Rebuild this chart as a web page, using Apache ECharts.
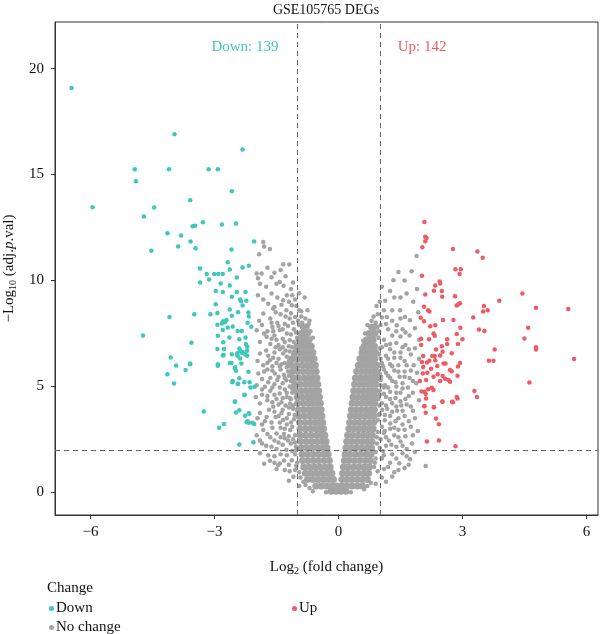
<!DOCTYPE html>
<html>
<head>
<meta charset="utf-8">
<script src="https://cdn.jsdelivr.net/npm/echarts@6/dist/echarts.min.js"></script>
<style>
  html, body { margin: 0; padding: 0; background: #fff; }
  #chart { width: 600px; height: 634px; }
</style>
</head>
<body>
<div id="chart"></div>
<script>
const titleText = 'GSE105765 DEGs'
const downCount = 139
const upCount = 142
const xTicks = [-6, -3, 0, 3, 6]
const yTicks = [0, 5, 10, 15, 20]
const fcCut = 1
const pCut = 2

// significant down (log2FC, -log10 adj.p)
const downPts = [
  [-6.46,19.08],[-3.97,16.9],[-2.32,16.18],[-4.93,15.25],[-4.10,15.25],[-3.14,15.25],[-2.92,15.25],
  [-4.9,14.68],[-2.58,14.21],[-5.95,13.46],[-3.59,13.79],[-4.46,13.44],[-4.71,13.02],[-3.28,12.75],
  [-3.53,12.56],[-3.47,12.58],[-2.82,12.64],[-2.48,12.69],[-4.14,12.23],[-3.81,12.12],[-3.88,11.6],
  [-3.58,11.84],[-3.46,11.52],[-4.53,11.4],[-2.59,11.46],[-2.04,11.84],
  [-2.68,10.86],[-3.35,10.56],[-2.63,10.52],[-2.32,10.61],[-2.17,10.69],[-3.19,10.3],[-3.01,10.3],
  [-2.91,10.3],[-2.80,10.3],[-2.46,10.14],[-3.13,10.05],[-3.35,9.91],[-2.85,9.86],[-2.63,9.76],
  [-2.97,9.5],[-2.80,9.46],[-2.46,9.45],[-2.25,9.45],[-2.38,9.1],[-2.36,9.02],[-2.58,9.23],[-2.23,9.04],
  [-2.97,8.88],[-2.32,8.82],[-2.63,8.63],[-2.43,8.5],[-2.18,8.49],[-2.93,8.47],[-3.10,8.4],[-3.49,8.41],
  [-4.09,8.27],[-2.17,8.3],[-2.58,8.33],[-2.79,8.08],[-2.75,8.03],[-2.82,7.97],[-2.71,8.13],[-2.93,7.91],
  [-2.56,7.83],[-2.68,7.78],[-2.2,8.0],[-2.11,7.81],[-2.80,7.66],[-2.44,7.61],[-2.34,7.61],[-2.92,7.39],
  [-2.64,7.31],[-2.40,7.23],[-2.25,7.31],[-3.56,7.06],[-2.79,7.08],[-2.24,7.0],[-2.21,6.87],[-2.40,6.79],
  [-2.93,6.77],[-2.77,6.76],[-2.45,6.56],[-2.32,6.62],[-2.26,6.52],[-4.06,6.37],[-4.73,7.4],
  [-3.93,5.99],[-3.59,6.08],[-3.59,6.04],[-3.70,5.77],[-4.14,5.57],[-3.98,5.14],[-3.26,3.82],
  [-2.89,3.05],[-2.77,3.22],[-2.40,2.26],[-2.06,2.36],[-2.48,3.77],[-2.40,3.88],[-2.51,4.27],
  [-2.28,4.59],[-2.17,3.73],[-2.26,3.61],[-2.22,3.31],[-2.17,3.28],[-2.04,3.22],[-2.57,5.2],
  [-2.44,5.11],[-2.28,5.2],[-2.15,5.2],[-2.03,4.98],[-2.92,5.97],[-2.63,6.11],[-2.51,5.85],
  [-2.48,5.74],[-2.18,5.69],[-2.58,6.52],[-2.44,6.43],[-2.38,6.67],[-2.21,6.45],[-2.80,6.46],
  [-2.92,6.05],[-2.78,6.48],[-2.59,6.11],[-2.45,6.49],[-2.34,6.59],[-2.21,6.68],[-2.38,6.32],
  [-2.50,5.9],[-2.35,6.08],[-2.40,5.39],[-2.56,5.25],[-2.43,5.12],[-2.13,4.95],[-2.27,4.6],
  [-2.50,4.29],[-2.16,3.71],[-2.08,3.28],[-2.20,3.35]
]

// significant up
const upPts = [
  [2.08,12.76],[2.10,12.06],[2.13,12.01],[2.10,11.85],[2.03,11.57],[2.77,11.49],[3.36,11.37],[3.49,11.07],
  [2.83,10.53],[2.96,10.53],[2.93,10.3],[2.02,10.22],[2.45,9.95],[2.46,9.86],[2.34,9.76],[2.50,9.5],
  [2.31,9.51],[2.10,9.34],[2.51,9.23],[2.82,9.25],[2.94,8.93],[2.90,8.88],[2.86,8.82],[3.89,9.04],
  [2.07,8.76],[2.17,8.6],[2.20,8.54],[3.52,8.8],[3.50,8.54],[3.61,8.6],[3.26,8.25],[2.53,8.13],
  [2.78,8.13],[1.99,8.24],[2.07,8.08],[2.34,7.89],[2.95,7.77],[3.40,7.69],[4.45,9.39],[4.78,8.71],
  [5.56,8.65],[4.59,7.77],[4.50,7.26],[4.78,6.85],[4.78,6.74],[3.78,6.74],[3.64,6.21],[3.75,6.21],
  [5.70,6.29],[4.62,5.19],[3.29,4.78],[3.35,4.5],[3.53,7.61],[2.14,2.4],[2.43,2.45],[2.83,2.18],
  [2.36,3.49],[2.43,3.21],[2.08,4.06],[2.11,3.76],[2.31,4.02],[2.52,4.27],[2.77,4.25],[2.86,4.5],
  [2.22,7.84],[2.30,7.5],[2.33,7.39],[2.86,7.47],[2.63,7.22],[2.0,7.25],[2.19,7.22],[3.0,7.22],
  [2.63,7.0],[2.89,7.0],[2.0,6.96],[2.50,6.9],[2.36,6.74],[2.74,6.56],[2.52,6.63],[2.05,6.43],
  [2.27,6.44],[2.33,6.44],[2.46,6.46],[2.2,6.21],[2.34,6.24],[2.14,6.13],[2.02,6.15],[2.54,6.08],
  [2.59,6.08],[2.94,6.11],[2.05,5.92],[2.39,5.96],[2.24,5.83],[2.70,5.77],[2.74,5.72],[2.89,5.94],
  [2.15,5.64],[2.04,5.61],[2.40,5.57],[2.52,5.49],[2.58,5.36],[2.30,5.45],[2.12,5.3],[1.97,5.26],
  [2.88,5.5],[2.46,5.26],[2.66,5.3],[2.70,5.22],[2.26,4.94],[2.17,4.87],[2.01,4.76],[2.08,4.75],
  [2.11,4.64],[2.30,4.83],[2.88,4.43],[2.51,4.29],[2.75,4.27],[2.12,4.43],[2.31,4.01],[2.08,4.07]
]

// no change, dense V core
const noChangeCore = [
  [-0.18,0.05],[-0.06,0.05],[0.06,0.05],[0.18,0.05],
  [-0.55,0.3],[-0.42,0.3],[-0.29,0.3],[-0.16,0.3],[-0.04,0.3],[0.08,0.3],[0.2,0.3],[0.33,0.3],[0.46,0.3],[0.58,0.3],
  [-0.75,0.6],[-0.62,0.6],[-0.49,0.6],[-0.36,0.6],[-0.23,0.6],[-0.12,0.6],
  [-0.8,0.9],[-0.67,0.9],[-0.54,0.9],[-0.41,0.9],[-0.28,0.9],[-0.16,0.9],
  [-0.84,1.2],[-0.71,1.2],[-0.58,1.2],[-0.45,1.2],[-0.32,1.2],[-0.2,1.2],
  [-0.87,1.5],[-0.74,1.5],[-0.61,1.5],[-0.48,1.5],[-0.35,1.5],[-0.22,1.5],
  [-0.88,1.8],[-0.75,1.8],[-0.62,1.8],[-0.49,1.8],[-0.36,1.8],[-0.25,1.8],
  [-0.9,2.1],[-0.77,2.1],[-0.64,2.1],[-0.51,2.1],[-0.38,2.1],[-0.28,2.1],
  [-0.91,2.4],[-0.78,2.4],[-0.65,2.4],[-0.52,2.4],[-0.4,2.4],[-0.3,2.4],
  [-0.92,2.7],[-0.79,2.7],[-0.66,2.7],[-0.53,2.7],[-0.42,2.7],[-0.33,2.7],
  [-0.93,3.0],[-0.8,3.0],[-0.67,3.0],[-0.55,3.0],[-0.45,3.0],[-0.36,3.0],
  [-0.94,3.3],[-0.81,3.3],[-0.68,3.3],[-0.57,3.3],[-0.47,3.3],[-0.38,3.3],
  [-0.96,3.6],[-0.83,3.6],[-0.7,3.6],[-0.59,3.6],[-0.49,3.6],[-0.4,3.6],
  [-0.97,3.9],[-0.84,3.9],[-0.72,3.9],[-0.61,3.9],[-0.51,3.9],[-0.42,3.9],
  [-0.99,4.2],[-0.86,4.2],[-0.74,4.2],[-0.63,4.2],[-0.53,4.2],[-0.44,4.2],
  [-1.0,4.5],[-0.88,4.5],[-0.76,4.5],[-0.65,4.5],[-0.55,4.5],[-0.46,4.5],
  [-1.03,4.8],[-0.9,4.8],[-0.78,4.8],[-0.67,4.8],[-0.57,4.8],[-0.48,4.8],
  [-1.06,5.1],[-0.93,5.1],[-0.8,5.1],[-0.69,5.1],[-0.59,5.1],[-0.5,5.1],
  [-1.09,5.4],[-0.96,5.4],[-0.83,5.4],[-0.71,5.4],[-0.61,5.4],[-0.52,5.4],
  [-1.12,5.7],[-0.99,5.7],[-0.86,5.7],[-0.74,5.7],[-0.64,5.7],[-0.54,5.7],
  [-1.14,6.0],[-1.01,6.0],[-0.88,6.0],[-0.77,6.0],[-0.66,6.0],[-0.56,6.0],
  [-1.1,6.3],[-0.98,6.3],[-0.87,6.3],[-0.77,6.3],[-0.68,6.3],[-0.59,6.3],
  [-1.05,6.6],[-0.94,6.6],[-0.84,6.6],[-0.75,6.6],[-0.66,6.6],[-0.62,6.6],
  [-1.0,6.9],[-0.9,6.9],[-0.81,6.9],[-0.73,6.9],[-0.66,6.9],
  [-0.95,7.2],[-0.86,7.2],[-0.78,7.2],[-0.71,7.2],
  [-0.9,7.5],[-0.82,7.5],[-0.75,7.5],
  [-0.85,7.8],[-0.78,7.8],
  [0.08,0.6],[0.2,0.6],[0.32,0.6],[0.45,0.6],[0.58,0.6],[0.7,0.6],
  [0.1,0.9],[0.22,0.9],[0.35,0.9],[0.48,0.9],[0.61,0.9],[0.73,0.9],
  [0.12,1.2],[0.24,1.2],[0.37,1.2],[0.5,1.2],[0.63,1.2],[0.75,1.2],
  [0.14,1.5],[0.26,1.5],[0.39,1.5],[0.52,1.5],[0.65,1.5],[0.77,1.5],
  [0.16,1.8],[0.28,1.8],[0.41,1.8],[0.54,1.8],[0.67,1.8],[0.79,1.8],
  [0.18,2.1],[0.3,2.1],[0.43,2.1],[0.56,2.1],[0.69,2.1],[0.8,2.1],
  [0.2,2.4],[0.32,2.4],[0.45,2.4],[0.58,2.4],[0.7,2.4],[0.81,2.4],
  [0.22,2.7],[0.34,2.7],[0.47,2.7],[0.59,2.7],[0.71,2.7],[0.82,2.7],
  [0.25,3.0],[0.37,3.0],[0.49,3.0],[0.61,3.0],[0.73,3.0],[0.84,3.0],
  [0.27,3.3],[0.39,3.3],[0.51,3.3],[0.63,3.3],[0.75,3.3],[0.85,3.3],
  [0.29,3.6],[0.41,3.6],[0.53,3.6],[0.65,3.6],[0.76,3.6],[0.86,3.6],
  [0.31,3.9],[0.43,3.9],[0.55,3.9],[0.67,3.9],[0.78,3.9],[0.87,3.9],
  [0.33,4.2],[0.45,4.2],[0.57,4.2],[0.68,4.2],[0.79,4.2],[0.88,4.2],
  [0.35,4.5],[0.47,4.5],[0.59,4.5],[0.7,4.5],[0.8,4.5],[0.89,4.5],
  [0.37,4.8],[0.49,4.8],[0.6,4.8],[0.71,4.8],[0.81,4.8],[0.9,4.8],
  [0.39,5.1],[0.51,5.1],[0.62,5.1],[0.73,5.1],[0.82,5.1],[0.91,5.1],
  [0.41,5.4],[0.53,5.4],[0.64,5.4],[0.74,5.4],[0.83,5.4],[0.92,5.4],
  [0.44,5.7],[0.55,5.7],[0.66,5.7],[0.76,5.7],[0.85,5.7],[0.93,5.7],
  [0.48,6.0],[0.58,6.0],[0.68,6.0],[0.78,6.0],[0.86,6.0],[0.93,6.0],
  [0.52,6.3],[0.62,6.3],[0.71,6.3],[0.8,6.3],[0.88,6.3],
  [0.57,6.6],[0.66,6.6],[0.75,6.6],[0.83,6.6],[0.9,6.6],
  [0.62,6.9],[0.71,6.9],[0.79,6.9],[0.87,6.9],
  [0.68,7.2],[0.76,7.2],[0.84,7.2],
  [0.74,7.5],[0.82,7.5],[0.88,7.5],
  [0.8,7.8],[0.87,7.8]
]

// no change, scattered wings
const noChangePts = [
  [-1.82,11.82],[-1.80,11.6],[-1.66,11.48],[-1.92,11.24],[-1.19,10.75],[-1.86,10.33],[-1.55,10.36],
  [-1.72,10.6],[-1.4,10.5],[-1.95,10.1],[-1.62,10.15],[-1.28,10.2],[-1.9,9.85],[-1.5,9.85],[-1.42,9.93],
  [-1.75,9.7],[-1.15,9.6],[-1.33,9.75],[-1.34,10.77],[-1.98,10.33],
  [-1.62,9.38],[-1.95,9.3],[-1.82,9.1],[-1.34,9.07],[-1.48,9.2],[-1.13,8.83],[-1.25,9.3],[-1.7,8.9],
  [-1.55,8.75],[-1.05,9.1],[-0.95,8.6],[-1.05,8.28],[-1.82,8.44],[-1.58,8.67],[-1.26,8.6],[-1.4,8.4],
  [-1.92,8.1],[-1.18,8.2],[-0.9,8.3],[-1.65,8.2],[-1.3,7.95],[-1.48,8.0],
  [-1.98,7.65],[-1.74,7.34],[-1.42,7.65],[-1.18,7.18],[-1.6,7.8],[-1.85,7.9],[-1.25,7.5],[-1.08,7.7],
  [-1.55,7.4],[-1.35,7.25],[-1.9,7.1],[-1.65,7.0],[-1.45,6.95],[-1.2,6.9],
  [-1.9,6.55],[-1.66,6.24],[-1.34,6.55],[-1.75,6.7],[-1.55,6.6],[-1.25,6.4],[-1.45,6.3],[-1.96,6.2],
  [-1.82,6.0],[-1.6,5.95],[-1.38,6.05],[-1.28,6.7],
  [-1.94,5.61],[-1.54,5.61],[-1.26,5.29],[-1.72,5.8],[-1.4,5.8],[-1.22,5.7],[-1.85,5.35],[-1.65,5.4],
  [-1.45,5.45],[-1.35,5.15],[-1.78,4.98],[-1.98,5.05],[-1.55,5.1],[-1.18,5.0],
  [-1.42,4.67],[-1.9,4.19],[-1.58,4.04],[-1.17,4.19],[-1.65,4.8],[-1.85,4.6],[-1.3,4.85],[-1.5,4.4],
  [-1.72,4.35],[-1.25,4.5],[-1.12,4.7],[-1.38,4.25],[-2.0,4.5],
  [-1.74,3.56],[-1.34,3.41],[-1.55,3.8],[-1.9,3.75],[-1.2,3.7],[-1.1,3.95],[-1.45,3.6],[-1.62,3.3],
  [-1.85,3.2],[-1.25,3.2],[-1.08,3.45],[-1.4,3.05],[-1.96,3.5],
  [-1.82,2.94],[-1.50,2.78],[-1.17,2.94],[-1.65,2.6],[-1.3,2.55],[-1.05,2.7],[-1.9,2.45],[-1.45,2.35],
  [-1.15,2.3],[-1.75,2.2],[-1.62,2.15],[-1.26,2.0],[-1.03,2.15],[-1.98,2.7],
  [-1.42,1.36],[-1.13,1.52],[-1.09,0.74],[-1.66,1.49],[-1.46,1.29],[-1.9,1.85],[-1.25,1.75],[-1.55,1.7],
  [-1.02,1.25],[-1.3,1.05],[-0.95,0.95],[-1.18,1.0],[-0.85,0.5],[-0.95,0.3],[-1.2,0.55],
  [-1.05,5.9],[-1.1,6.5],[-1.0,7.3],[-0.95,7.9],[-1.02,8.8],[-0.88,8.0],[-0.8,8.2],[-0.75,8.6],
  [-0.82,9.2],[-0.95,9.4],[-1.1,9.9],[-0.7,8.1],[-1.12,3.1],[-1.1,2.5],[-1.05,1.8],[-1.15,4.4],
  [-1.2,5.5],[-1.3,6.1],[-1.35,7.7],[-1.5,7.2],[-1.15,8.45],[-1.22,7.85],[-1.42,6.75],[-1.32,5.55],
  [-1.28,4.1],[-1.38,3.75],[-1.32,2.75],[-1.22,2.45],
  [-1.12,9.3],[-1.2,9.0],[-1.38,8.85],[-1.52,8.5],[-1.62,8.0],[-1.72,7.6],[-1.28,8.3],[-1.1,8.0],
  [-1.45,7.85],[-1.58,7.6],[-1.15,7.45],[-1.3,7.1],[-1.62,7.25],[-1.8,7.5],[-1.52,6.85],[-1.35,6.85],
  [-1.18,6.65],[-1.7,6.45],[-1.58,6.35],[-1.2,6.2],[-1.5,6.1],[-1.72,6.1],[-1.42,5.95],[-1.25,5.9],
  [-1.6,5.75],[-1.8,5.7],[-1.48,5.3],[-1.3,5.4],[-1.7,5.2],[-1.15,5.25],[-1.6,4.95],[-1.42,4.95],
  [-1.25,4.7],[-1.85,4.85],[-1.55,4.6],[-1.72,4.55],[-1.35,4.45],[-1.18,4.45],[-1.6,4.25],[-1.45,4.15],
  [-1.2,4.0],[-1.35,3.9],[-1.68,3.9],[-1.52,3.55],[-1.25,3.5],[-1.15,3.3],[-1.78,3.35],[-1.42,3.3],
  [-1.6,3.05],[-1.3,3.0],[-1.72,2.75],[-1.4,2.6],[-1.2,2.65],[-1.55,2.45],[-1.85,2.3],[-1.35,2.25],
  [-1.5,2.05],[-1.12,1.95],[-1.4,1.8],[-1.7,1.75],[-1.32,1.5],[-1.55,1.4],[-1.2,1.3],[-1.05,1.05],
  [-0.92,0.7],[-1.5,1.1],[-1.8,1.35],
  [-1.0,1.4],[-1.02,2.0],[-1.05,2.35],[-1.06,3.65],[-1.1,4.1],[-1.12,4.9],[-1.15,5.55],[-1.22,6.05],
  [-1.18,6.35],[-1.12,6.85],[-1.08,7.1],[-1.03,7.55],[-0.98,8.1],[-0.9,8.55],[-0.72,7.95],[-0.68,7.6],
  [-0.62,7.3],[-0.7,0.2],[-0.62,0.05],[-0.8,0.35],[-0.3,0.0],
  [1.89,11.15],[1.45,10.4],[1.77,10.44],[1.33,10.01],[1.6,10.0],[1.0,8.99],[1.13,9.04],[1.65,9.38],
  [1.81,8.99],[1.49,8.6],[1.30,8.6],[1.17,8.28],[1.61,8.28],[1.41,7.89],[1.73,8.12],[1.25,9.5],
  [1.9,9.6],[1.5,9.2],[1.05,9.7],[0.95,8.4],[1.35,9.2],[1.93,8.5],[1.1,8.6],[0.9,8.0],[1.02,7.9],
  [1.55,7.7],[1.85,7.75],[1.2,7.7],
  [1.3,7.4],[1.5,7.35],[1.72,7.4],[1.1,7.2],[1.95,7.2],[1.4,7.05],[1.62,6.95],[1.85,6.8],[1.05,6.85],
  [1.25,6.75],[1.5,6.6],[1.75,6.5],[1.15,6.45],[1.35,6.35],[1.95,6.3],[1.6,6.2],[1.05,6.1],[1.25,6.05],
  [1.45,6.0],[1.82,6.0],
  [1.1,5.8],[1.35,5.75],[1.6,5.7],[1.9,5.65],[1.2,5.5],[1.48,5.45],[1.72,5.4],[1.02,5.3],[1.3,5.25],
  [1.55,5.15],[1.88,5.15],[1.12,5.05],[1.4,5.0],[1.68,4.95],
  [1.0,4.8],[1.25,4.75],[1.5,4.7],[1.8,4.7],[1.15,4.5],[1.38,4.45],[1.62,4.4],[1.95,4.35],[1.05,4.2],
  [1.3,4.2],[1.52,4.1],[1.75,4.05],[1.18,3.95],[1.42,3.85],
  [1.0,3.7],[1.25,3.6],[1.6,3.6],[1.85,3.5],[1.12,3.4],[1.38,3.35],[1.55,3.2],[1.75,3.1],[1.05,3.1],
  [1.25,3.0],[1.45,2.95],[1.92,2.9],
  [1.1,2.8],[1.35,2.7],[1.62,2.65],[1.02,2.5],[1.22,2.45],[1.5,2.4],[1.78,2.3],[1.15,2.2],[1.4,2.15],
  [1.65,2.05],[1.0,2.1],
  [2.11,1.24],[1.73,1.56],[1.47,1.37],[1.15,0.5],[1.3,1.8],[1.55,1.85],[1.05,1.6],[1.2,1.2],[0.95,1.0],
  [1.35,0.95],[1.05,0.7],[0.9,0.4],[1.6,1.15],[1.85,1.9],
  [0.98,6.5],[1.0,5.6],[0.97,4.4],[0.95,3.4],[0.93,2.6],[0.9,1.9],[0.88,1.4],[0.98,7.6],[0.85,8.3],
  [0.92,8.8],[0.8,8.1],[1.08,5.95],[1.1,4.95],[1.06,3.9],[1.12,2.9],[1.08,1.95],
  [1.15,7.95],[1.3,8.1],[1.5,8.2],[1.05,8.25],[1.25,7.0],[1.4,7.6],[1.62,7.55],[1.15,6.95],[1.35,6.6],
  [1.55,6.85],[1.7,6.75],[1.2,6.3],[1.5,6.35],[1.3,5.95],[1.65,6.0],[1.15,5.65],[1.45,5.7],[1.75,5.75],
  [1.25,5.4],[1.6,5.45],[1.38,5.2],[1.8,5.25],[1.2,4.95],[1.55,4.9],[1.1,4.65],[1.4,4.7],[1.7,4.55],
  [1.25,4.4],[1.5,4.3],[1.15,4.1],[1.4,4.05],[1.65,4.15],[1.3,3.8],[1.55,3.85],[1.8,3.85],[1.12,3.65],
  [1.45,3.5],[1.7,3.35],[1.25,3.25],[1.35,3.05],[1.6,2.95],[1.15,2.6],[1.45,2.6],[1.8,2.7],[1.28,2.25],
  [1.55,2.2],[1.1,1.75],[1.4,1.6],[1.25,1.4],[1.7,1.3],[1.45,1.05],[1.1,1.1],[1.3,0.75],[1.65,1.7],
  [0.86,1.2],[0.9,1.6],[0.93,2.3],[0.95,2.85],[0.97,3.65],[0.99,4.1],[1.0,4.6],[1.02,5.05],[1.03,5.45],
  [1.02,6.3],[1.0,6.8],[0.97,7.3],[0.94,7.8],[0.7,7.9],[0.64,7.5],[0.6,7.15],[0.55,6.8],
  [0.62,0.15],[0.7,0.3],[0.78,0.45],[0.3,0.0]
]

const serif = '"Liberation Serif", "DejaVu Serif", serif'
const colDown = '#3fc7bc'
const colUp = '#ef5b64'
const colGrey = '#a3a3a3'
const minus = v => String(v).replace('-', '\u2212')

const chart = echarts.init(document.getElementById('chart'), null, { renderer: 'canvas' })

const legendText = { fontFamily: serif, fontSize: 15, color: '#111', padding: [0, 0, 0, -3] }
const legendBase = { icon: 'circle', itemWidth: 5, itemHeight: 5, textStyle: legendText }

chart.setOption({
  animation: false,
  textStyle: { fontFamily: serif },
  grid: {
    left: 55, right: 2, top: 22, bottom: 119, outerBoundsMode: 'none', containLabel: false,
    show: true, borderColor: '#333', borderWidth: 1
  },
  xAxis: {
    type: 'value', min: -6.86, max: 6.28,
    axisLine: { onZero: false, lineStyle: { color: '#333' } },
    axisTick: { length: 4, customValues: xTicks, lineStyle: { color: '#333' } },
    axisLabel: { customValues: xTicks, formatter: minus, color: '#111', fontSize: 15, fontFamily: serif, margin: 10 },
    splitLine: { show: false },
    name: 'Log{sub|2} (fold change)', nameLocation: 'middle', nameGap: 43,
    nameTextStyle: {
      color: '#111', fontSize: 15, fontFamily: serif, lineHeight: 18,
      rich: { sub: { fontSize: 10, fontFamily: serif, verticalAlign: 'bottom', lineHeight: 10, color: '#111' } }
    }
  },
  yAxis: {
    type: 'value', min: -1.07, max: 22.2,
    axisLine: { onZero: false, lineStyle: { color: '#333' } },
    axisTick: { length: 4, customValues: yTicks, lineStyle: { color: '#333' } },
    axisLabel: { customValues: yTicks, color: '#111', fontSize: 15, fontFamily: serif, margin: 11 },
    splitLine: { show: false },
    name: '\u2212Log{sub|10} (adj.{it|p}.val)', nameLocation: 'middle', nameGap: 34,
    nameTextStyle: {
      color: '#111', fontSize: 15, fontFamily: serif, lineHeight: 18,
      rich: {
        sub: { fontSize: 10, fontFamily: serif, verticalAlign: 'bottom', lineHeight: 10, color: '#111' },
        it: { fontSize: 15, fontFamily: serif, fontStyle: 'italic', color: '#111' }
      }
    }
  },
  legend: [
    Object.assign({ left: 44, top: 596, data: ['Down'] }, legendBase),
    Object.assign({ left: 44, top: 615, data: ['No change'] }, legendBase),
    Object.assign({ left: 287, top: 596, data: ['Up'] }, legendBase)
  ],
  graphic: [
    { type: 'text', x: 326, y: 10, style: { text: titleText, align: 'center', verticalAlign: 'middle', font: '14px ' + serif, fill: '#111' } },
    { type: 'text', x: 245, y: 47, style: { text: 'Down: ' + downCount, align: 'center', verticalAlign: 'middle', font: '15px ' + serif, fill: colDown } },
    { type: 'text', x: 422, y: 47, style: { text: 'Up: ' + upCount, align: 'center', verticalAlign: 'middle', font: '15px ' + serif, fill: colUp } },
    { type: 'text', x: 47, y: 588, style: { text: 'Change', align: 'left', verticalAlign: 'middle', font: '15px ' + serif, fill: '#111' } }
  ],
  series: [
    {
      name: 'No change', type: 'scatter', data: noChangeCore, symbolSize: 7, silent: true,
      itemStyle: { color: colGrey, opacity: 1 }
    },
    {
      name: 'No change', type: 'scatter', data: noChangePts, symbolSize: 4.5, silent: true,
      itemStyle: { color: colGrey, opacity: 1 },
      markLine: {
        silent: true, symbol: 'none', label: { show: false },
        lineStyle: { color: '#666', type: [5, 4], width: 1 },
        data: [{ xAxis: -fcCut }, { xAxis: fcCut }, { yAxis: pCut }]
      }
    },
    {
      name: 'Down', type: 'scatter', data: downPts, symbolSize: 4.5, silent: true,
      itemStyle: { color: colDown, opacity: 1 }
    },
    {
      name: 'Up', type: 'scatter', data: upPts, symbolSize: 4.5, silent: true,
      itemStyle: { color: colUp, opacity: 1 }
    }
  ]
})
</script>
</body>
</html>
